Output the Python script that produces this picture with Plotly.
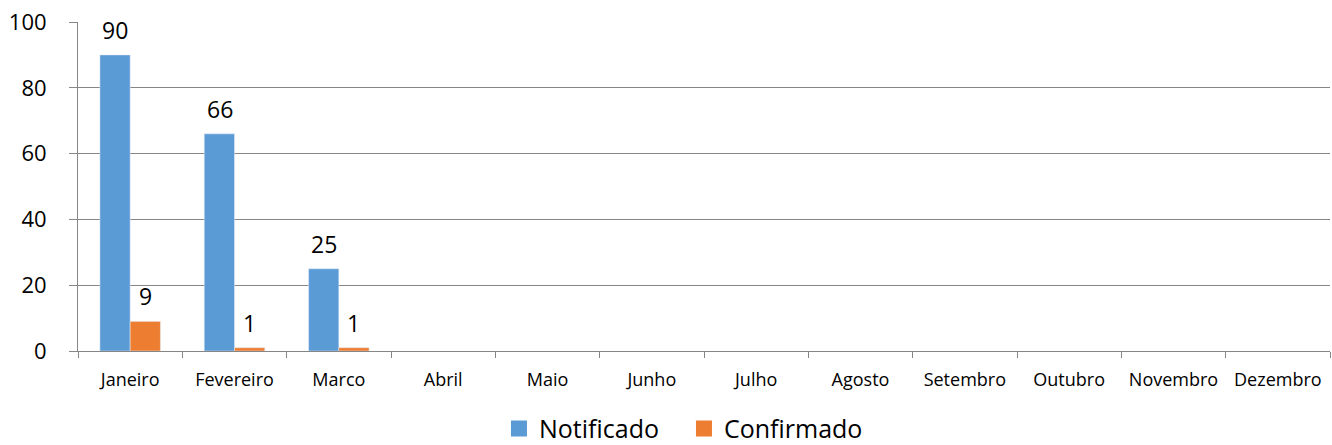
import plotly.graph_objects as go

meses = ["Janeiro", "Fevereiro", "Marco", "Abril", "Maio", "Junho", "Julho",
         "Agosto", "Setembro", "Outubro", "Novembro", "Dezembro"]
notificado = [90, 66, 25, None, None, None, None, None, None, None, None, None]
confirmado = [9, 1, 1, None, None, None, None, None, None, None, None, None]
series_names = ["Notificado", "Confirmado"]

blue = "#5B9BD5"
orange = "#ED7D31"
font = "Open Sans, Liberation Sans, sans-serif"

fig = go.Figure()
fig.add_bar(x=meses, y=notificado, name=series_names[0], marker_color=blue, showlegend=False)
fig.add_bar(x=meses, y=confirmado, name=series_names[1], marker_color=orange, showlegend=False)
# legend entries with square markers
for nm, col in zip(series_names, [blue, orange]):
    fig.add_scatter(x=[None], y=[None], mode="markers", name=nm,
                    marker=dict(symbol="square", size=16, color=col))

annotations = []
for m, n, c in zip(meses, notificado, confirmado):
    if n is not None:
        annotations.append(dict(x=m, y=n, text=str(n), showarrow=False, xshift=-15,
                                yshift=25, font=dict(size=23, color="#000", family=font)))
    if c is not None:
        annotations.append(dict(x=m, y=c, text=str(c), showarrow=False, xshift=15,
                                yshift=25, font=dict(size=23, color="#000", family=font)))

fig.update_layout(
    width=1332, height=458,
    margin=dict(l=78, r=2, t=22, b=107, autoexpand=False),
    paper_bgcolor="white", plot_bgcolor="white",
    barmode="group", bargap=0.42, bargroupgap=0,
    font=dict(family=font, color="#000"),
    annotations=annotations,
    legend=dict(orientation="h", x=0.484, xanchor="center", y=-0.236, yanchor="middle",
                font=dict(size=25, family=font), traceorder="normal",
                itemwidth=30, entrywidth=140),
)
fig.update_xaxes(
    type="category", tickson="boundaries", ticks="outside", ticklen=6, tickcolor="#868686",
    showgrid=False, showline=True, linecolor="#868686", linewidth=1,
    tickfont=dict(size=18, family=font), automargin=False, ticklabelstandoff=12,
)
fig.update_yaxes(
    range=[0, 100], dtick=20, showgrid=True, gridcolor="#868686", gridwidth=1,
    ticks="outside", ticklen=8, tickcolor="#868686", showline=True, linecolor="#868686",
    tickfont=dict(size=22, family=font), zeroline=False, automargin=False,
    ticklabelstandoff=18,
)

fig.write_html("out.html", config={"displayModeBar": False},
               post_script="document.body.style.margin='0';document.body.style.overflow='hidden';")
